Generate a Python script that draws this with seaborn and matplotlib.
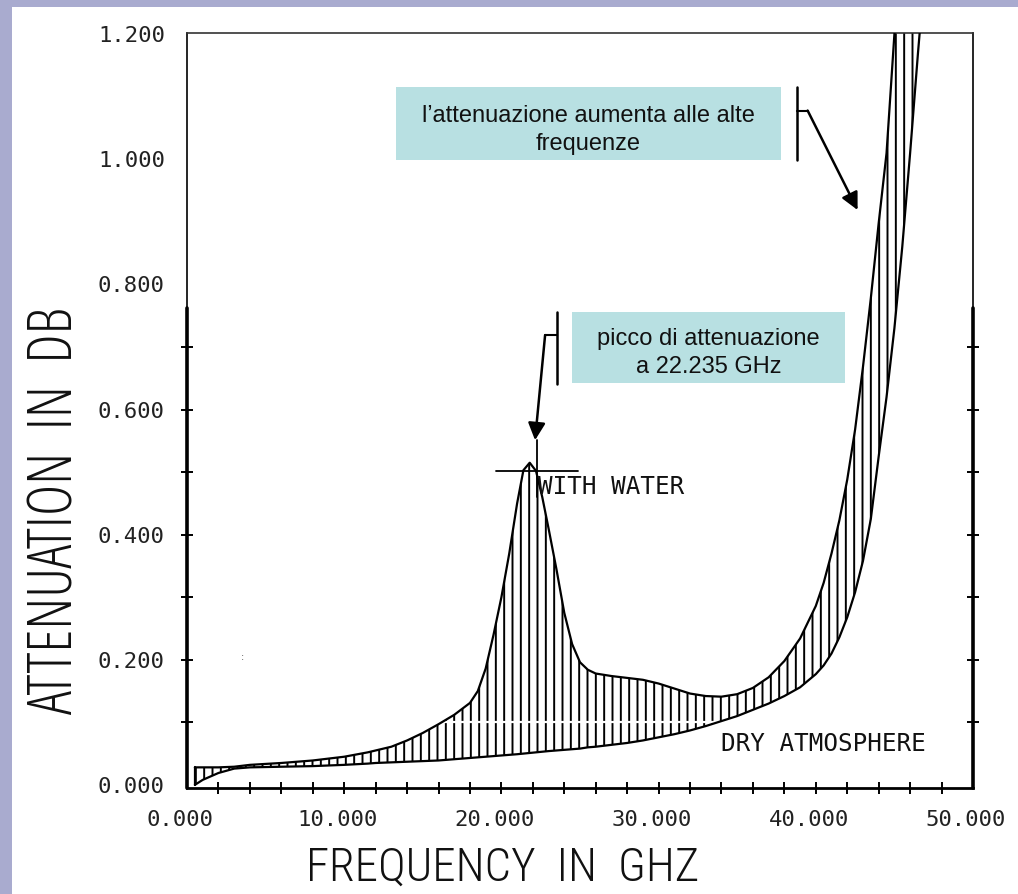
import matplotlib
matplotlib.use("Agg")
import matplotlib.pyplot as plt
import matplotlib.transforms as mtransforms
from matplotlib.patches import Rectangle
from matplotlib import font_manager
from matplotlib.font_manager import FontProperties
from matplotlib.textpath import TextPath
import pandas as pd
import seaborn as sns

# ---------------- data ----------------
freq_ghz = [0.5, 1, 2, 3, 4, 6, 8, 10, 11.5, 12, 13, 14, 15, 16, 17, 18, 18.5, 19,
            19.5, 20, 20.5, 21, 21.4, 21.8, 22.2, 22.6, 23, 23.5, 24, 24.5, 25, 25.5,
            26, 27, 28, 29, 30, 31, 32, 33, 34, 35, 36, 37, 38, 39, 40, 40.5, 41,
            41.5, 42, 42.5, 43, 43.5, 44, 44.5, 45, 45.5, 46, 46.5, 47]
with_water_db = [0.028, 0.028, 0.028, 0.029, 0.032, 0.035, 0.039, 0.045, 0.052, 0.055,
                 0.061, 0.071, 0.083, 0.097, 0.112, 0.131, 0.150, 0.186,
                 0.240, 0.300, 0.370, 0.450, 0.503, 0.515, 0.502, 0.460, 0.410, 0.345,
                 0.275, 0.225, 0.196, 0.184,
                 0.178, 0.174, 0.171, 0.168, 0.162, 0.154, 0.146, 0.142, 0.141, 0.145,
                 0.155, 0.172, 0.198, 0.234, 0.286, 0.323, 0.370,
                 0.423, 0.488, 0.568, 0.668, 0.778, 0.898, 1.010, 1.200, 1.320, 1.400,
                 1.450, 1.500]
dry_atmosphere_db = [0.000, 0.008, 0.019, 0.026, 0.028, 0.029, 0.030, 0.032, 0.034, 0.035,
                     0.036, 0.037, 0.038, 0.039, 0.041, 0.043, 0.044, 0.045,
                     0.046, 0.047, 0.048, 0.049, 0.050, 0.051, 0.052, 0.053, 0.054, 0.055,
                     0.056, 0.057, 0.058, 0.060,
                     0.061, 0.064, 0.067, 0.071, 0.076, 0.081, 0.087, 0.094, 0.102, 0.110,
                     0.120, 0.130, 0.142, 0.156, 0.177, 0.191, 0.210,
                     0.236, 0.268, 0.308, 0.358, 0.425, 0.525, 0.620, 0.730, 0.860, 1.010,
                     1.170, 1.320]

x_label_values = [0, 10, 20, 30, 40, 50]
x_tick_labels = ["0.000", "10.000", "20.000", "30.000", "40.000", "50.000"]
x_minor_ticks = [2, 4, 6, 8, 10, 12, 14, 16, 18, 20, 22, 24, 26, 28, 30, 32, 34, 36,
                 38, 40, 42, 44, 46, 48]
y_label_values = [0.0, 0.2, 0.4, 0.6, 0.8, 1.0, 1.2]
y_tick_labels = ["0.000", "0.200", "0.400", "0.600", "0.800", "1.000", "1.200"]
y_minor_ticks = [0.1, 0.2, 0.3, 0.4, 0.5, 0.6, 0.7]

X_TITLE = "FREQUENCY  IN  GHZ"
Y_TITLE = "ATTENUATION  IN  DB"

df = pd.DataFrame({"freq": freq_ghz, "water": with_water_db, "dry": dry_atmosphere_db})

# ---------------- style ----------------
sns.set_theme(style="white")
plt.rcParams["font.family"] = ["DejaVu Sans"]
plt.rcParams["hatch.linewidth"] = 1.4
plt.rcParams["hatch.color"] = "black"

names = {f.name for f in font_manager.fontManager.ttflist}
mono = "DejaVu Sans Mono"
box_family = "Liberation Sans" if "Liberation Sans" in names else "DejaVu Sans"

# pick the most condensed-looking installed sans font for the plotter-style axis titles
BASES = ("DejaVu Sans", "Liberation Sans", "Noto Sans", "Roboto", "Open Sans", "Lato", "Inter")
WEIGHTS = {"light": 300, "normal": 400, "regular": 400, "book": 400, "medium": 500}


def _weight(w):
    if isinstance(w, (int, float)):
        return w
    return WEIGHTS.get(str(w).lower(), 700)


def _ink(fp, s):
    e = TextPath((0, 0), s, size=100, prop=fp).get_extents()
    return e.width, e.height


def pick_title_font(text, target_w, target_h):
    best = None
    for f in font_manager.fontManager.ttflist:
        try:
            nm = f.name
            if "Mono" in nm or "CJK" in nm or f.style != "normal":
                continue
            if not (nm in BASES or (nm.startswith(BASES) and ("Condensed" in nm or "Narrow" in nm))):
                continue
            if not (300 <= _weight(f.weight) <= 400):
                continue
            fp = FontProperties(fname=f.fname)
            w, h = _ink(fp, text)
            if w <= 0 or h <= 0:
                continue
            score = abs(h / w - target_h / target_w)
            if best is None or score < best[0]:
                best = (score, fp, w)
        except Exception:
            continue
    if best is None:
        fp = FontProperties(family="DejaVu Sans")
        w, _ = _ink(fp, text)
        best = (0, fp, w)
    _, fp, w = best
    size = target_w * 72.0 / w  # points so that ink width == target_w px at 100 dpi
    return fp, size


W, H = 1018, 894
fig = plt.figure(figsize=(W / 100, H / 100), dpi=100)
fig.patch.set_facecolor("#A9ABCF")
fig.add_artist(Rectangle((12 / W, 0), 1 - 12 / W, (H - 7) / H, transform=fig.transFigure,
                         facecolor="white", edgecolor="none", zorder=-10))

ax = fig.add_axes([187 / W, (H - 788) / H, (973 - 187) / W, (788 - 33) / H])
ax.set_facecolor("none")

# hatched band between the two curves
ax.fill_between(df["freq"], df["dry"], df["water"], facecolor="none", edgecolor="black",
                hatch="||", linewidth=0, zorder=1)
# scanning artefact: white line crossing the hatching
ax.plot([15.7, 33.9], [0.1, 0.1], color="white", lw=1.6, zorder=2)

sns.lineplot(data=df, x="freq", y="water", ax=ax, color="black", lw=1.6, zorder=3)
sns.lineplot(data=df, x="freq", y="dry", ax=ax, color="black", lw=1.6, zorder=3)
ax.plot([freq_ghz[0], freq_ghz[0]], [dry_atmosphere_db[0], with_water_db[0]],
        color="black", lw=1.6, zorder=3)

ax.set_xlim(0, 50)
ax.set_ylim(-0.005, 1.202)

# ticks
ax.set_xticks(x_label_values)
ax.set_xticklabels(x_tick_labels)
ax.set_xticks(x_minor_ticks, minor=True)
ax.set_yticks(y_label_values)
ax.set_yticklabels(y_tick_labels)
ax.set_yticks(y_minor_ticks, minor=True)
ax.xaxis.remove_overlapping_locs = False
ax.yaxis.remove_overlapping_locs = False
ax.tick_params(which="major", length=0, labelsize=16, colors="#222222")
ax.tick_params(axis="x", which="major", pad=16)
ax.tick_params(axis="y", which="major", pad=16)
ax.tick_params(which="minor", direction="inout", length=9, width=1.4, color="black")
ax.tick_params(axis="y", which="minor", left=True, right=True)
ax.tick_params(axis="x", which="minor", bottom=True)
for lab in ax.get_xticklabels() + ax.get_yticklabels():
    lab.set_fontfamily(mono)
off = mtransforms.ScaledTranslation(-7 / 100, 0, fig.dpi_scale_trans)
for lab in ax.get_xticklabels():
    lab.set_transform(lab.get_transform() + off)

for side in ["left", "right", "top", "bottom"]:
    ax.spines[side].set_visible(True)
    ax.spines[side].set_color("black")
    ax.spines[side].set_linewidth(1.2)
ax.spines["bottom"].set_linewidth(2.0)
ax.spines["top"].set_color("#333333")
ax.plot([0, 0], [-0.005, 0.762], color="black", lw=2.6, clip_on=False, zorder=4)
ax.plot([50, 50], [-0.005, 0.762], color="black", lw=2.6, clip_on=False, zorder=4)

# axis titles (condensed plotter lettering)
fpx, sx = pick_title_font(X_TITLE, 387, 40)
fpy, sy = pick_title_font(Y_TITLE, 405, 44)
fpx = fpx.copy(); fpx.set_size(sx)
fpy = fpy.copy(); fpy.set_size(sy)
ax.set_xlabel(X_TITLE, fontproperties=fpx, color="#111111", va="center", ha="center")
ax.xaxis.set_label_coords(0.402, -0.105)
ax.set_ylabel(Y_TITLE, fontproperties=fpy, color="#111111", va="center", ha="center")
ax.yaxis.set_label_coords(-0.166, 0.368)

# curve labels
ax.text(22.35, 0.476, "WITH WATER", fontfamily=mono, fontsize=17.5, va="center", ha="left", color="#111111")
ax.text(34.0, 0.066, "DRY ATMOSPHERE", fontfamily=mono, fontsize=17.5, va="center", ha="left", color="#111111")
ax.text(3.5, 0.204, ":", fontsize=7, color="#555555", ha="center", va="center")

# peak crosshair
ax.plot([19.66, 24.87], [0.502, 0.502], color="black", lw=1.3, zorder=4)
ax.plot([22.25, 22.25], [0.46, 0.551], color="black", lw=1.3, zorder=4)

# callouts
arrow_kw = dict(arrowstyle="-|>", color="black", lw=1.8, mutation_scale=26, shrinkA=0, shrinkB=0)
ax.plot([38.78, 38.78], [0.999, 1.116], color="black", lw=1.8, clip_on=False, zorder=5)
ax.plot([38.78, 39.48], [1.078, 1.078], color="black", lw=1.5, clip_on=False, zorder=5)
ax.annotate("", xy=(42.66, 0.919), xytext=(39.48, 1.078), arrowprops=arrow_kw, zorder=5)

ax.plot([23.54, 23.54], [0.641, 0.756], color="black", lw=1.8, clip_on=False, zorder=5)
ax.plot([23.54, 22.78], [0.719, 0.719], color="black", lw=1.5, clip_on=False, zorder=5)
ax.annotate("", xy=(22.14, 0.551), xytext=(22.78, 0.719), arrowprops=arrow_kw, zorder=5)

box_color = "#B8E0E2"
fig.add_artist(Rectangle((396 / W, 1 - 160 / H), (781 - 396) / W, (160 - 87) / H,
                         transform=fig.transFigure, facecolor=box_color, edgecolor="none", zorder=5))
fig.text(588.5 / W, 1 - 130 / H, "l\u2019attenuazione aumenta alle alte\nfrequenze",
         ha="center", va="center", fontsize=17, fontfamily=box_family, color="#111111",
         linespacing=1.3, zorder=6)
fig.add_artist(Rectangle((572 / W, 1 - 383 / H), (845 - 572) / W, (383 - 312) / H,
                         transform=fig.transFigure, facecolor=box_color, edgecolor="none", zorder=5))
fig.text(708.5 / W, 1 - 353 / H, "picco di attenuazione\na 22.235 GHz",
         ha="center", va="center", fontsize=17, fontfamily=box_family, color="#111111",
         linespacing=1.3, zorder=6)

fig.savefig("out.png", dpi=100, facecolor=fig.get_facecolor())
